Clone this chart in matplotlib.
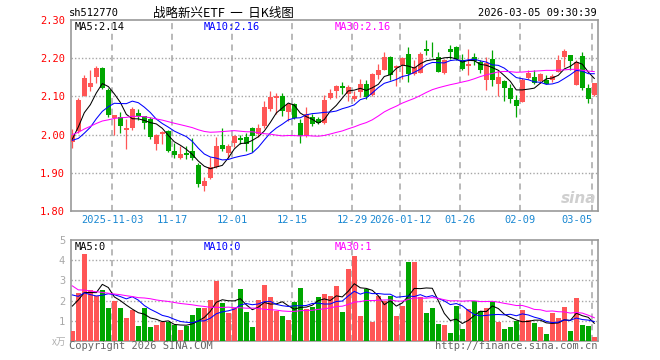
import matplotlib
matplotlib.use("Agg")
import matplotlib.pyplot as plt
import numpy as np
import pandas as pd

# daily bars 2025-10-23 .. 2026-03-05
opens = [1.980, 2.010, 2.100, 2.125, 2.151, 2.174, 2.116, 2.043, 2.047, 2.012,
         2.017, 2.056, 2.049, 2.040, 1.975, 2.001, 2.010, 1.957, 1.940, 1.953,
         1.957, 1.920, 1.866, 1.886, 1.915, 1.973, 1.951, 1.977, 1.990, 1.994,
         2.017, 2.001, 2.023, 2.066, 2.096, 2.100, 2.060, 2.081, 2.031, 1.996,
         2.045, 2.040, 2.031, 2.095, 2.114, 2.126, 2.107, 2.094, 2.111, 2.132,
         2.103, 2.157, 2.170, 2.203, 2.175, 2.182, 2.212, 2.158, 2.161, 2.225,
         2.217, 2.204, 2.160, 2.225, 2.230, 2.195, 2.179, 2.202, 2.190, 2.144,
         2.199, 2.132, 2.140, 2.123, 2.091, 2.085, 2.149, 2.151, 2.140, 2.142,
         2.142, 2.164, 2.202, 2.208, 2.129, 2.205, 2.123, 2.103]
highs = [2.014, 2.095, 2.155, 2.170, 2.180, 2.178, 2.123, 2.052, 2.060, 2.040,
         2.073, 2.066, 2.050, 2.045, 2.001, 2.010, 2.012, 1.977, 1.970, 1.970,
         1.990, 1.925, 1.889, 1.942, 1.993, 2.017, 1.975, 2.000, 2.000, 2.005,
         2.020, 2.027, 2.088, 2.113, 2.110, 2.110, 2.084, 2.084, 2.040, 2.073,
         2.055, 2.045, 2.104, 2.119, 2.129, 2.138, 2.131, 2.113, 2.145, 2.144,
         2.160, 2.184, 2.215, 2.205, 2.183, 2.204, 2.230, 2.196, 2.217, 2.247,
         2.243, 2.217, 2.197, 2.234, 2.232, 2.212, 2.225, 2.214, 2.195, 2.202,
         2.221, 2.168, 2.142, 2.133, 2.103, 2.147, 2.168, 2.168, 2.161, 2.155,
         2.158, 2.208, 2.225, 2.208, 2.195, 2.217, 2.133, 2.135]
lows = [1.965, 2.005, 2.100, 2.114, 2.136, 2.120, 2.047, 2.000, 2.003, 1.962,
        2.011, 2.039, 2.014, 1.988, 1.960, 1.976, 1.955, 1.940, 1.935, 1.935,
        1.933, 1.863, 1.852, 1.883, 1.913, 1.957, 1.940, 1.968, 1.975, 1.957,
        1.955, 1.993, 2.018, 2.063, 2.053, 2.049, 2.036, 2.040, 1.979, 1.994,
        2.023, 2.027, 2.028, 2.092, 2.096, 2.107, 2.089, 2.089, 2.098, 2.094,
        2.101, 2.146, 2.168, 2.142, 2.126, 2.146, 2.139, 2.155, 2.160, 2.208,
        2.202, 2.163, 2.158, 2.199, 2.195, 2.170, 2.155, 2.182, 2.162, 2.118,
        2.126, 2.100, 2.089, 2.082, 2.046, 2.085, 2.146, 2.132, 2.136, 2.133,
        2.138, 2.163, 2.177, 2.168, 2.129, 2.118, 2.083, 2.100]
closes = [2.000, 2.090, 2.147, 2.134, 2.174, 2.123, 2.051, 2.051, 2.023, 2.017,
          2.066, 2.049, 2.031, 1.994, 2.000, 2.008, 1.957, 1.947, 1.949, 1.947,
          1.940, 1.871, 1.879, 1.916, 1.970, 1.961, 1.969, 1.996, 1.987, 1.976,
          1.996, 2.017, 2.071, 2.099, 2.100, 2.062, 2.081, 2.043, 1.996, 2.053,
          2.027, 2.031, 2.090, 2.108, 2.126, 2.123, 2.125, 2.100, 2.132, 2.098,
          2.158, 2.170, 2.203, 2.155, 2.180, 2.201, 2.158, 2.177, 2.211, 2.219,
          2.215, 2.164, 2.196, 2.217, 2.199, 2.173, 2.186, 2.193, 2.168, 2.188,
          2.142, 2.151, 2.123, 2.094, 2.075, 2.142, 2.161, 2.136, 2.158, 2.133,
          2.153, 2.196, 2.219, 2.193, 2.190, 2.123, 2.094, 2.135]
volumes = [0.48, 2.40, 4.33, 2.53, 2.23, 2.53, 1.62, 2.00, 1.62, 1.12,
           1.53, 0.73, 1.65, 0.68, 0.78, 0.95, 0.92, 0.78, 0.53, 0.73,
           1.28, 1.65, 1.65, 2.03, 2.98, 1.90, 1.40, 1.62, 2.58, 1.45,
           0.70, 2.03, 2.78, 2.18, 1.50, 1.23, 1.03, 1.93, 2.63, 1.57,
           1.70, 2.17, 2.35, 2.23, 2.73, 1.43, 3.58, 4.20, 1.23, 2.58,
           0.95, 2.23, 2.00, 2.23, 1.23, 1.73, 3.90, 3.93, 2.17, 1.40,
           1.65, 0.83, 0.78, 0.40, 1.75, 0.58, 1.58, 1.98, 1.48, 1.65,
           1.98, 0.95, 0.58, 0.70, 1.00, 1.53, 1.03, 0.90, 0.70, 0.33,
           1.40, 1.15, 1.68, 0.50, 2.15, 0.78, 0.75, 0.20]

# 29 sessions before the window, only for the moving-average warm-up
# (estimated from where the MA lines start)
prev_closes = [1.91, 1.89, 1.92, 1.95, 1.93, 1.96, 1.94, 1.97, 1.99, 1.98,
               2.05, 2.06, 2.08, 2.09, 2.10, 2.08, 2.07, 2.06, 2.06, 2.06,
               2.04, 2.01, 1.98, 1.95, 1.93, 1.93, 1.96, 2.03, 2.02]
prev_volumes = [8.4, 4.6, 3.9, 3.3, 3.5, 2.9, 3.1, 2.7, 2.6, 2.8,
                2.4, 2.1, 1.8, 2.6, 2.2, 1.9, 2.3, 2.0, 1.7, 2.3,
                3.1, 2.6, 3.4, 2.9, 2.15, 0.9, 2.48, 2.53, 2.26]

date_pos = [7, 17, 27, 37, 47, 55, 65, 75, 87]
date_labels = ["2025-11-03", "11-17", "12-01", "12-15", "12-29",
               "2026-01-12", "01-26", "02-09", "03-05"]
price_ticks = [1.80, 1.90, 2.00, 2.10, 2.20, 2.30]
vol_ticks = [1, 2, 3, 4, 5]
ma_names = ["MA5", "MA10", "MA30"]
price_ma_text = ["2.14", "2.16", "2.16"]
vol_ma_text = ["0", "0", "1"]

UP = "#ff5656"
DOWN = "#00a600"
MA_COLORS = ["black", "#0000ff", "#ff00ff"]
GRID = "#a6a6a6"
MONO = "DejaVu Sans Mono"

n = len(closes)
x = np.arange(n)
o, h, l, c = map(np.array, (opens, highs, lows, closes))
up = c >= o
colors = np.where(up, UP, DOWN)

cs = pd.Series(prev_closes + closes)
vs = pd.Series(prev_volumes + volumes)
price_ma = [cs.rolling(w).mean().values[-n:] for w in (5, 10, 30)]
vol_ma = [vs.rolling(w).mean().values[-n:] for w in (5, 10, 30)]

W, H = 660, 360
fig = plt.figure(figsize=(6.6, 3.6), dpi=100)
L, R = 70.7 / W, 597.7 / W
ax = fig.add_axes([L, 1 - 211 / H, R - L, 191 / H])
axv = fig.add_axes([L, 1 - 341 / H, R - L, 101 / H])

xlim = (-0.27, 87.57)

# candles
ax.vlines(x, l, h, colors=colors, lw=0.9, zorder=3)
body = np.maximum(np.abs(c - o), 0.0018)
ax.bar(x, body, bottom=np.minimum(o, c), width=0.75, color=colors, lw=0, zorder=4)
for m, col in zip(price_ma, MA_COLORS):
    ax.plot(x, m, color=col, lw=0.75, zorder=5)

# volume
axv.bar(x, volumes, width=0.85, color=colors, lw=0, zorder=3)
for m, col in zip(vol_ma, MA_COLORS):
    axv.plot(x, m, color=col, lw=0.75, zorder=5)

for a in (ax, axv):
    a.set_xlim(*xlim)
    for p in date_pos:
        a.axvline(p - 0.35, color=GRID, lw=1.1, ls=(0, (4, 3)), zorder=1)
    for s in a.spines.values():
        s.set_color("#999999")
        s.set_linewidth(1.2)
    a.tick_params(length=0)

ax.set_ylim(1.80, 2.30)
for t in price_ticks[1:-1]:
    ax.axhline(t, color=GRID, lw=1, ls=(0, (1, 1.5)), zorder=1)
ax.set_yticks(price_ticks, [f"{t:.2f}" for t in price_ticks])
ax.tick_params(axis="y", colors="red", labelsize=7.5, pad=4)
ax.set_xticks([p - 0.35 for p in date_pos], date_labels)
ax.tick_params(axis="x", colors="#1a88d2", labelsize=7.5, pad=3)
last = ax.get_xticklabels()[-1]
last.set_ha("right")
for t in ax.get_xticklabels() + ax.get_yticklabels():
    t.set_family(MONO)

axv.set_ylim(0, 5)
for t in vol_ticks[:-1]:
    axv.axhline(t, color=GRID, lw=1, ls=(0, (1, 1.5)), zorder=1)
axv.set_yticks(vol_ticks, [str(t) for t in vol_ticks])
axv.tick_params(axis="y", colors="#a8a8a8", labelsize=7.5, pad=4)
axv.set_xticks([])
for t in axv.get_yticklabels():
    t.set_family(MONO)


def px(xp, yp):
    return xp / W, 1 - yp / H


# legends inside panels
for name, val, col, xp in zip(ma_names, price_ma_text, MA_COLORS, (75, 204, 335)):
    fig.text(*px(xp, 27), f"{name}:{val}", color=col, fontsize=7.5,
             family=MONO, va="center")
for name, val, col, xp in zip(ma_names, vol_ma_text, MA_COLORS, (75, 204, 335)):
    fig.text(*px(xp, 247), f"{name}:{val}", color=col, fontsize=7.5,
             family=MONO, va="center")

# header
fig.text(*px(69, 13), "sh512770", fontsize=7.5, family=MONO, va="center")
fig.text(*px(223, 13), "战略新兴ETF  一  日K线图", fontsize=9,
         family=["Noto Sans CJK SC", "DejaVu Sans"], ha="center", va="center")
fig.text(*px(597, 13), "2026-03-05 09:30:39", fontsize=7.5, family=MONO,
         ha="right", va="center")

# footer
fig.text(*px(69, 346), "Copyright 2026 SINA.COM", fontsize=7.5, family=MONO,
         color="#666666", va="center")
fig.text(*px(597, 346), "http://finance.sina.com.cn", fontsize=7.5, family=MONO,
         color="#666666", ha="right", va="center")
fig.text(*px(66, 342), "x万", fontsize=7, color="#b0b0b0", ha="right", va="center",
         family=["Noto Sans CJK SC", "DejaVu Sans"])

# watermark
fig.text(*px(596, 198), "sina", fontsize=11, fontweight="bold", style="italic",
         color="#cfcfcf", ha="right", va="center")

fig.savefig("out.png", dpi=100)
